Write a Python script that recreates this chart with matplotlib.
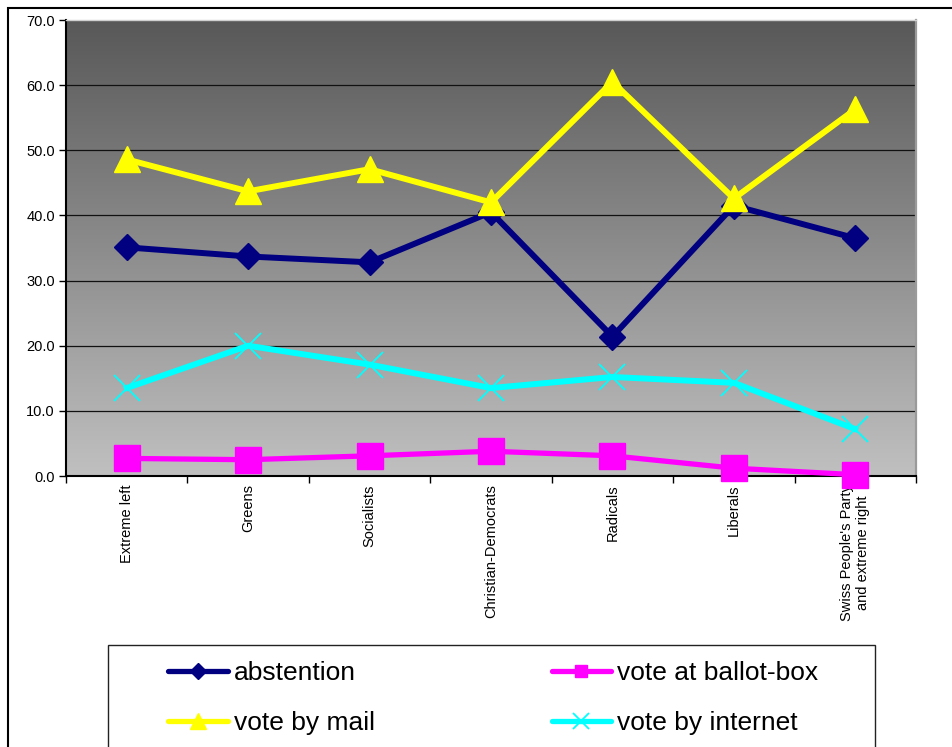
import numpy as np
import matplotlib
matplotlib.use("Agg")
import matplotlib.pyplot as plt
from matplotlib.colors import LinearSegmentedColormap
from matplotlib.lines import Line2D
from matplotlib.patches import Rectangle

plt.rcParams['font.family'] = ['Liberation Sans', 'DejaVu Sans']

W, H = 953, 747

PARTIES = ["Extreme left", "Greens", "Socialists", "Christian-Democrats",
           "Radicals", "Liberals", "Swiss People's Party\nand extreme right"]

ABSTENTION = [35.1, 33.7, 32.8, 40.5, 21.4, 41.5, 36.5]
BALLOT_BOX = [2.7, 2.5, 3.1, 3.8, 3.1, 1.2, 0.2]
BY_MAIL = [48.6, 43.7, 47.1, 42.0, 60.5, 42.6, 56.3]
BY_INTERNET = [13.5, 20.0, 17.1, 13.5, 15.2, 14.3, 7.2]

Y_TICKS = [0, 10, 20, 30, 40, 50, 60, 70]

# (label, values, colour, marker, markersize, legend markersize, line width)
SERIES = [
    ("abstention", ABSTENTION, "#000080", "D", 13, 8, 4.3),
    ("vote at ballot-box", BALLOT_BOX, "#ff00ff", "s", 18.5, 9, 3.8),
    ("vote by mail", BY_MAIL, "#ffff00", "^", 19, 12, 4.3),
    ("vote by internet", BY_INTERNET, "#00ffff", "x", 19, 11, 4.3),
]

fig = plt.figure(figsize=(W / 100, H / 100), dpi=100)
ax = fig.add_axes([66 / W, 1 - 476 / H, (916 - 66) / W, (476 - 20) / H])

x = np.arange(len(PARTIES))
ax.set_xlim(-0.5, len(PARTIES) - 0.5)
ax.set_ylim(0, 70)

# grey gradient behind the plot, dark at the top
bg = LinearSegmentedColormap.from_list("bg", ["#c0c0c0", "#585858"])
ax.imshow(np.linspace(0, 1, 256).reshape(-1, 1), extent=[-0.5, len(PARTIES) - 0.5, 0, 70],
          aspect="auto", origin="lower", cmap=bg, zorder=0)

for yv in Y_TICKS[1:-1]:
    ax.axhline(yv, color="#111111", lw=0.9, zorder=1)

handles = []
for label, vals, color, marker, ms, lms, lw in SERIES:
    mew = 1.3 if marker == "x" else 1
    ax.plot(x, vals, color=color, lw=lw, marker=marker, ms=ms, mec=color, mfc=color,
            mew=mew, clip_on=False, zorder=3)
    handles.append(Line2D([], [], color=color, lw=3.8, marker=marker, ms=lms, mec=color,
                          mfc=color, mew=mew, solid_capstyle="round"))

ax.set_yticks(Y_TICKS)
ax.set_yticklabels([f"{v:.1f}" for v in Y_TICKS], fontsize=10.5)
ax.set_xticks(x)
ax.set_xticklabels(PARTIES, rotation=90, fontsize=10.5, va="top", ha="center",
                   multialignment="center")
ax.set_xticks(np.arange(-0.5, len(PARTIES)), minor=True)
ax.tick_params(axis="x", which="major", length=0, pad=6)
ax.tick_params(axis="x", which="minor", length=5, width=1, color="black")
ax.tick_params(axis="y", length=5, width=1, pad=3)

for side in ("left", "bottom"):
    ax.spines[side].set_color("black")
    ax.spines[side].set_linewidth(1.5)
ax.spines["right"].set_color("#9a9a9a")
ax.spines["right"].set_linewidth(1.6)
ax.spines["top"].set_color("#d0d0d0")
ax.spines["top"].set_linewidth(1)

# outer chart border and legend frame (both run off the bottom edge)
fig.patches.append(Rectangle((8 / W, -0.1), 1.2, (H - 8) / H + 0.1,
                             transform=fig.transFigure, fill=False, ec="black", lw=1.5))
fig.patches.append(Rectangle((108 / W, -0.1), (875 - 108) / W, (H - 645) / H + 0.1,
                             transform=fig.transFigure, fill=False, ec="#222222", lw=1))

order = [0, 2, 1, 3]
fig.legend([handles[i] for i in order], [SERIES[i][0] for i in order],
           loc="upper left", bbox_to_anchor=(168 / W, 1 - 661 / H), ncol=2,
           frameon=False, fontsize=19, borderpad=0, borderaxespad=0,
           handlelength=2.27, handletextpad=0.22, columnspacing=6.7, labelspacing=0.98)

fig.savefig("out.png", dpi=100)
